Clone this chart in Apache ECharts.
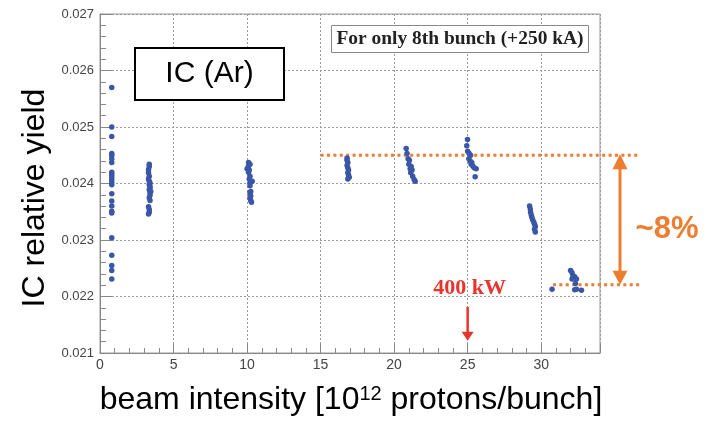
<!DOCTYPE html>
<html>
<head>
<meta charset="utf-8">
<script src="https://cdn.jsdelivr.net/npm/echarts@6/dist/echarts.min.js"></script>
<style>html,body{margin:0;padding:0;background:#fff;}#c{width:712px;height:425px;}</style>
</head>
<body>
<div id="c"></div>
<script>
// ---- data (beam intensity [1e12 ppb], IC relative yield) ----
const g1x = [0.8,0.8,0.8,0.8,0.8,0.8,0.8,0.8,0.8,0.8,0.8,0.8,0.8,0.8,0.8,0.8,0.8,0.8,0.8,0.8,0.8,0.8,0.8];
const g1y = [0.0257,0.0250,0.02483,0.02453,0.0245,0.02444,0.02437,0.0242,0.02416,0.02412,0.02407,0.02402,0.02398,0.02382,0.02369,0.0236,0.02351,0.02348,0.02304,0.02273,0.02255,0.02246,0.02231];
const g2x = [3.35,3.35,3.3,3.3,3.35,3.3,3.35,3.4,3.35,3.4,3.4,3.35,3.45,3.4,3.4,3.35,3.4,3.3,3.35,3.35,3.3];
const g2y = [0.02434,0.0243,0.02425,0.02419,0.02413,0.02408,0.02404,0.02401,0.02398,0.02395,0.02392,0.02389,0.02386,0.02384,0.02379,0.02375,0.0237,0.02359,0.02354,0.02349,0.02346];
const g3x = [10.1,10.2,10.1,10.0,10.15,10.1,10.2,10.15,10.35,10.2,10.2,10.25,10.2,10.25,10.2,10.25,10.3];
const g3y = [0.02437,0.02434,0.02431,0.02426,0.02424,0.0242,0.02413,0.02408,0.02404,0.02401,0.02396,0.02386,0.02384,0.02378,0.02375,0.0237,0.02367];
const g4x = [16.8,16.8,16.85,16.8,16.85,16.9,16.85,16.9,16.95,16.85];
const g4y = [0.02445,0.02441,0.02437,0.02432,0.02428,0.02424,0.02419,0.02415,0.02411,0.02408];
const g5x = [20.82,20.88,20.95,21.04,21.0,21.16,21.09,21.22,21.13,21.26,21.36,21.43];
const g5y = [0.02462,0.02453,0.02444,0.02441,0.02434,0.0243,0.02426,0.02424,0.02419,0.02413,0.02407,0.02404];
const g6x = [24.99,24.94,25.0,25.1,25.2,25.08,25.17,25.28,25.24,25.35,25.44,25.58,25.51];
const g6y = [0.02478,0.02467,0.02457,0.02453,0.0245,0.02444,0.0244,0.02437,0.02434,0.02431,0.02428,0.02426,0.02412];
const g7x = [29.21,29.26,29.28,29.33,29.37,29.42,29.49,29.55,29.6,29.55,29.6];
const g7y = [0.0236,0.02355,0.02349,0.02344,0.0234,0.02336,0.02332,0.02328,0.02324,0.02319,0.02314];
const g8x = [30.74,32.0,32.1,32.16,32.28,32.1,32.4,32.33,32.4,32.28,32.74];
const g8y = [0.02213,0.02246,0.02242,0.02237,0.02235,0.02231,0.02231,0.02223,0.02213,0.02212,0.02211];

// axis ranges / ticks
const xMin = 0, xMax = 34, xStep = 5;
const yMin = 0.021, yMax = 0.027, yStep = 0.001;

// annotation values (data units)
const refLevel = 0.0245, refStart = 15;
const lowLevel = 0.02221, lowStart = 30.8;
const lineEnd = 36.7, arrowX = 35.36;
const markX = 25;           // 400 kW marker
const markTextY = 0.02215, markArrowTop = 0.021816, markArrowTip = 0.021218;

const groupsX = [g1x,g2x,g3x,g4x,g5x,g6x,g7x,g8x];
const groupsY = [g1y,g2y,g3y,g4y,g5y,g6y,g7y,g8y];
const points = [];
groupsX.forEach((gx, i) => gx.forEach((x, j) => points.push([x, groupsY[i][j]])));

const chart = echarts.init(document.getElementById('c'), null, {renderer: 'canvas'});
const SANS = '"Liberation Sans", Arial, Helvetica, sans-serif';
const SERIF = '"Liberation Serif", "DejaVu Serif", serif';

chart.setOption({
  animation: false,
  backgroundColor: '#fff',
  grid: {left: 100, right: 112, top: 14, bottom: 72, show: true, borderColor: '#999', borderWidth: 1, backgroundColor: 'transparent'},
  xAxis: {
    type: 'value', min: xMin, max: xMax, interval: xStep,
    axisLine: {show: true, lineStyle: {color: '#888', width: 1}},
    axisTick: {show: true, inside: true, length: 9, lineStyle: {color: '#888'}},
    minorTick: {show: true, splitNumber: 5, length: 5, lineStyle: {color: '#888'}},
    splitLine: {show: true, lineStyle: {color: '#999', type: [2, 2], width: 1}},
    axisLabel: {fontSize: 14, color: '#444', fontFamily: SANS, margin: 5, showMaxLabel: false}
  },
  yAxis: {
    type: 'value', min: yMin, max: yMax, interval: yStep,
    axisLine: {show: true, lineStyle: {color: '#888', width: 1}},
    axisTick: {show: true, inside: true, length: 12, lineStyle: {color: '#888'}},
    minorTick: {show: true, splitNumber: 5, length: 6, lineStyle: {color: '#888'}},
    splitLine: {show: true, lineStyle: {color: '#999', type: [2, 2], width: 1}},
    axisLabel: {fontSize: 13, color: '#444', fontFamily: SANS, margin: 6, formatter: v => v.toFixed(3)}
  },
  series: [{
    type: 'scatter', data: points, symbolSize: 5.5,
    itemStyle: {color: '#3a56a6', opacity: 1}, z: 3
  }]
});

function P(x, y) { return chart.convertToPixel({gridIndex: 0}, [x, y]); }
const ORANGE = '#ed7d31', RED = '#e8352b';
const a1 = P(refStart, refLevel), a2 = P(lineEnd, refLevel);
const b1 = P(lowStart, lowLevel), b2 = P(lineEnd, lowLevel);
const at = P(arrowX, refLevel), ab = P(arrowX, lowLevel);
const mt = P(markX, markTextY), m1 = P(markX, markArrowTop), m2 = P(markX, markArrowTip);
const ah = 14, aw = 7.5;

chart.setOption({
  graphic: [
    // y title
    {type: 'text', x: 35, y: 198, rotation: Math.PI / 2, z: 10,
     style: {text: 'IC relative yield', font: '32px ' + SANS, fill: '#000', align: 'center', verticalAlign: 'middle'}},
    // x title
    {type: 'text', x: 351, y: 400, z: 10,
     style: {text: 'beam intensity [10{s|12} protons/bunch]', font: '32px ' + SANS, fill: '#000', align: 'center', verticalAlign: 'middle',
             rich: {s: {fontSize: 20, fontFamily: SANS, verticalAlign: 'top', lineHeight: 32, padding: [0, 0, 0, 0]}}}},
    // IC (Ar) box
    {type: 'rect', shape: {x: 135, y: 48, width: 149, height: 52}, z: 10,
     style: {fill: '#fff', stroke: '#000', lineWidth: 2}},
    {type: 'text', x: 209.5, y: 74, z: 11,
     style: {text: 'IC (Ar)', font: '30px ' + SANS, fill: '#000', align: 'center', verticalAlign: 'middle'}},
    // For only 8th bunch box
    {type: 'rect', shape: {x: 331.5, y: 25.5, width: 257, height: 27}, z: 10,
     style: {fill: '#fff', stroke: '#888', lineWidth: 1}},
    {type: 'text', x: 460, y: 39.5, z: 11, scaleX: 1.08,
     style: {text: 'For only 8th bunch (+250 kA)', font: 'bold 18px ' + SERIF, fill: '#222', align: 'center', verticalAlign: 'middle'}},
    // orange dotted levels
    {type: 'line', shape: {x1: a1[0], y1: a1[1], x2: a2[0], y2: a2[1]}, z: 2,
     style: {stroke: ORANGE, lineWidth: 3, lineDash: [3, 3.4]}},
    {type: 'line', shape: {x1: b1[0], y1: b1[1], x2: b2[0], y2: b2[1]}, z: 2,
     style: {stroke: ORANGE, lineWidth: 3, lineDash: [3, 3.4]}},
    // orange double arrow
    {type: 'line', shape: {x1: at[0], y1: at[1] + ah - 1, x2: ab[0], y2: ab[1] - ah + 1}, z: 6,
     style: {stroke: ORANGE, lineWidth: 3}},
    {type: 'polygon', shape: {points: [[at[0], at[1] - 1], [at[0] - aw, at[1] + ah], [at[0] + aw, at[1] + ah]]}, z: 6,
     style: {fill: ORANGE}},
    {type: 'polygon', shape: {points: [[ab[0], ab[1] + 0], [ab[0] - aw, ab[1] - ah], [ab[0] + aw, ab[1] - ah]]}, z: 6,
     style: {fill: ORANGE}},
    {type: 'text', x: 667, y: 229, z: 6,
     style: {text: '~8%', font: 'bold 31px ' + SANS, fill: ORANGE, align: 'center', verticalAlign: 'middle'}},
    // 400 kW marker
    {type: 'text', x: mt[0] + 2, y: mt[1] + 1, z: 6, scaleX: 1.05,
     style: {text: '400 kW', font: 'bold 21px ' + SERIF, fill: RED, align: 'center', verticalAlign: 'middle'}},
    {type: 'line', shape: {x1: m1[0], y1: m1[1], x2: m2[0], y2: m2[1] - 8}, z: 6,
     style: {stroke: RED, lineWidth: 2.5}},
    {type: 'polygon', shape: {points: [[m2[0], m2[1]], [m2[0] - 6, m2[1] - 9], [m2[0] + 6, m2[1] - 9]]}, z: 6,
     style: {fill: RED}}
  ]
});
</script>
</body>
</html>
